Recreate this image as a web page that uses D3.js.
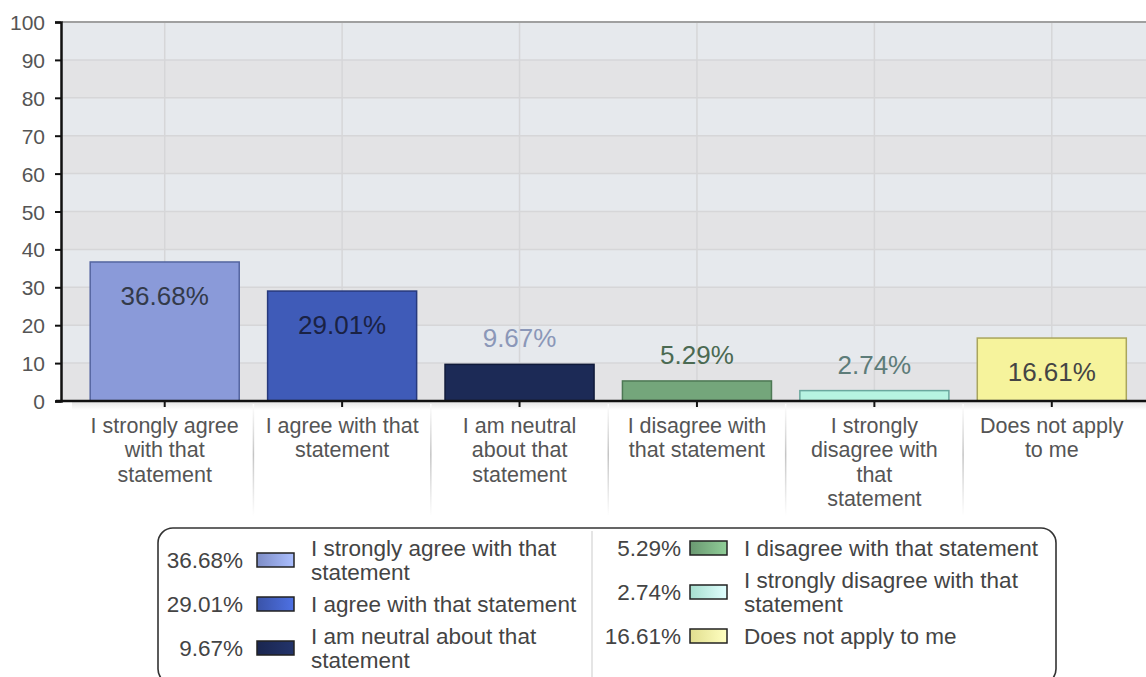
<!DOCTYPE html>
<head>
  <title>Survey responses</title>
  <style>
    body { margin: 0; background: #fff; }
    svg { display: block; font-family: "Liberation Sans", Arial, sans-serif; }
    .ytick text { fill: #555; font-size: 21px; }
    .cat text { fill: #555; font-size: 21.5px; }
    .legend text { fill: #444; font-size: 22.5px; }
  </style>
</head>
<body>
<script src="https://cdn.jsdelivr.net/npm/d3@7"></script>
<script>
  // data
  var categories = ["I strongly agree with that statement", "I agree with that statement",
    "I am neutral about that statement", "I disagree with that statement",
    "I strongly disagree with that statement", "Does not apply to me"];
  var values = [36.68, 29.01, 9.67, 5.29, 2.74, 16.61];
  var yTicks = [0, 10, 20, 30, 40, 50, 60, 70, 80, 90, 100];
  // wrapped labels as drawn under the axis and in the legend
  var axisLines = [["I strongly agree", "with that", "statement"], ["I agree with that", "statement"],
    ["I am neutral", "about that", "statement"], ["I disagree with", "that statement"],
    ["I strongly", "disagree with", "that", "statement"], ["Does not apply", "to me"]];
  var legendLines = [["I strongly agree with that", "statement"], ["I agree with that statement"],
    ["I am neutral about that", "statement"], ["I disagree with that statement"],
    ["I strongly disagree with that", "statement"], ["Does not apply to me"]];

  var fills = ["#8a9ad9", "#3f5bb8", "#1c2a56", "#74a67b", "#b6f3e1", "#f6f39c"];
  var strokes = ["#5465a0", "#27397c", "#101a3a", "#4d7854", "#6aa89e", "#a9a55c"];
  var labelColors = ["#333a4a", "#1a2244", "#8b97b8", "#4b6a52", "#5d7c79", "#444"];

  var W = 1146, H = 677;
  var plotL = 62, plotR = 1146, plotT = 22, plotB = 401;

  var svg = d3.select("body").append("svg").attr("width", W).attr("height", H);
  var defs = svg.append("defs");

  var x = d3.scaleBand().domain(categories).range([76, 1140.5])
    .paddingInner(0.16).paddingOuter(0.08);
  var y = d3.scaleLinear().domain([0, 100]).range([plotB, plotT]);

  // alternating bands
  svg.selectAll("rect.band")
    .data(yTicks.slice(0, -1))
    .enter().append("rect")
    .attr("class", "band")
    .attr("x", plotL).attr("width", plotR - plotL)
    .attr("y", function(d) { return y(d + 10); })
    .attr("height", function(d) { return y(d) - y(d + 10); })
    .attr("fill", function(d, i) { return i % 2 == 0 ? "#e3e3e5" : "#e6e9ed"; });

  // grid
  svg.selectAll("line.hgrid")
    .data(yTicks.slice(1, -1))
    .enter().append("line")
    .attr("x1", plotL).attr("x2", plotR)
    .attr("y1", function(d) { return y(d); }).attr("y2", function(d) { return y(d); })
    .attr("stroke", "#d6d6d8").attr("stroke-width", 1.5);
  svg.selectAll("line.vgrid")
    .data(categories)
    .enter().append("line")
    .attr("x1", function(d) { return x(d) + x.bandwidth() / 2; })
    .attr("x2", function(d) { return x(d) + x.bandwidth() / 2; })
    .attr("y1", plotT).attr("y2", plotB)
    .attr("stroke", "#d6d6d8").attr("stroke-width", 1.5);

  // top border
  svg.append("line").attr("x1", plotL).attr("x2", plotR).attr("y1", plotT).attr("y2", plotT)
    .attr("stroke", "#a0a0a0").attr("stroke-width", 2);

  // bars
  svg.selectAll("rect.bar")
    .data(values)
    .enter().append("rect")
    .attr("class", "bar")
    .attr("x", function(d, i) { return x(categories[i]); })
    .attr("width", x.bandwidth())
    .attr("y", function(d) { return y(d); })
    .attr("height", function(d) { return y(0) - y(d); })
    .attr("fill", function(d, i) { return fills[i]; })
    .attr("stroke", function(d, i) { return strokes[i]; })
    .attr("stroke-width", 1.5);

  svg.selectAll("text.val")
    .data(values)
    .enter().append("text")
    .attr("x", function(d, i) { return x(categories[i]) + x.bandwidth() / 2; })
    .attr("y", function(d) { return (y(0) - y(d) > 50) ? y(d) + 43 : y(d) - 17; })
    .attr("text-anchor", "middle")
    .attr("font-size", 26)
    .attr("fill", function(d, i) { return labelColors[i]; })
    .text(function(d) { return d.toFixed(2) + "%"; });

  // shadow under the x axis
  var sh = defs.append("linearGradient").attr("id", "shadow").attr("x1", 0).attr("x2", 0).attr("y1", 0).attr("y2", 1);
  sh.append("stop").attr("offset", 0).attr("stop-color", "#e6e6e6");
  sh.append("stop").attr("offset", 1).attr("stop-color", "#fff");
  svg.append("rect").attr("x", plotL + 10).attr("y", plotB + 1).attr("width", plotR - plotL).attr("height", 8)
    .attr("fill", "url(#shadow)");

  // separators between category labels
  var sep = defs.append("linearGradient").attr("id", "sep").attr("x1", 0).attr("x2", 0).attr("y1", 0).attr("y2", 1);
  sep.append("stop").attr("offset", 0).attr("stop-color", "#fff");
  sep.append("stop").attr("offset", 0.45).attr("stop-color", "#c4c4c4");
  sep.append("stop").attr("offset", 1).attr("stop-color", "#fff");
  svg.selectAll("rect.sep")
    .data(categories.slice(1))
    .enter().append("rect")
    .attr("x", function(d) { return x(d) - x.step() * x.paddingInner() / 2 - 0.75; })
    .attr("y", 404).attr("width", 1.5).attr("height", 112)
    .attr("fill", "url(#sep)");

  // y axis
  var yAxis = svg.append("g").attr("class", "ytick")
    .attr("transform", "translate(" + (plotL - 1) + ",0)")
    .call(d3.axisLeft(y).tickValues(yTicks).tickSize(6).tickPadding(10));
  yAxis.select(".domain").attr("stroke", "#111").attr("stroke-width", 2.5);
  yAxis.selectAll(".tick line").attr("stroke", "#111").attr("stroke-width", 2);
  yAxis.selectAll("text").attr("font-family", null).attr("font-size", null).attr("dy", "0.36em");

  // x axis line and ticks
  svg.append("line").attr("x1", plotL - 6).attr("x2", plotR).attr("y1", plotB).attr("y2", plotB)
    .attr("stroke", "#111").attr("stroke-width", 2.5);
  svg.selectAll("line.xtick")
    .data(categories)
    .enter().append("line")
    .attr("x1", function(d) { return x(d) + x.bandwidth() / 2; })
    .attr("x2", function(d) { return x(d) + x.bandwidth() / 2; })
    .attr("y1", plotB).attr("y2", plotB + 6)
    .attr("stroke", "#111").attr("stroke-width", 2);

  // category labels
  var cat = svg.append("g").attr("class", "cat");
  categories.forEach(function(c, i) {
    var t = cat.append("text")
      .attr("x", x(c) + x.bandwidth() / 2)
      .attr("y", 425)
      .attr("text-anchor", "middle");
    axisLines[i].forEach(function(line, j) {
      t.append("tspan").attr("x", x(c) + x.bandwidth() / 2)
        .attr("y", 425 + j * 24.5).attr("dy", "0.36em").text(line);
    });
  });

  // legend
  var lg = svg.append("g").attr("class", "legend");
  lg.append("rect").attr("x", 158).attr("y", 528).attr("width", 898).attr("height", 156)
    .attr("rx", 15).attr("ry", 15)
    .attr("fill", "#fff").attr("stroke", "#333").attr("stroke-width", 1.6);
  lg.append("line").attr("x1", 592).attr("x2", 592).attr("y1", 531).attr("y2", 680)
    .attr("stroke", "#ddd").attr("stroke-width", 1.5);

  var cols = [{valX: 243, swX: 257, txtX: 311}, {valX: 681, swX: 690, txtX: 744}];
  var lineH = 24, itemGap = 8, firstLine = 548;
  var cursor = [firstLine, firstLine];
  categories.forEach(function(c, i) {
    var col = i < 3 ? 0 : 1;
    var cfg = cols[col];
    var top = cursor[col];
    var n = legendLines[i].length;
    var mid = top + (n - 1) * lineH / 2;
    cursor[col] = top + n * lineH + itemGap;

    var gid = "sw" + i;
    var g = defs.append("linearGradient").attr("id", gid);
    g.append("stop").attr("offset", 0).attr("stop-color", d3.color(fills[i]).darker(0.25));
    g.append("stop").attr("offset", 1).attr("stop-color", d3.color(fills[i]).brighter(0.6));

    lg.append("text").attr("x", cfg.valX).attr("y", mid).attr("dy", "0.36em")
      .attr("text-anchor", "end").text(values[i].toFixed(2) + "%");
    lg.append("rect").attr("x", cfg.swX).attr("y", mid - 7).attr("width", 37).attr("height", 14)
      .attr("fill", "url(#" + gid + ")").attr("stroke", "#222").attr("stroke-width", 1.5);
    var t = lg.append("text").attr("x", cfg.txtX).attr("y", top);
    legendLines[i].forEach(function(line, j) {
      t.append("tspan").attr("x", cfg.txtX).attr("y", top + j * lineH).attr("dy", "0.36em").text(line);
    });
  });
</script>
</body>
